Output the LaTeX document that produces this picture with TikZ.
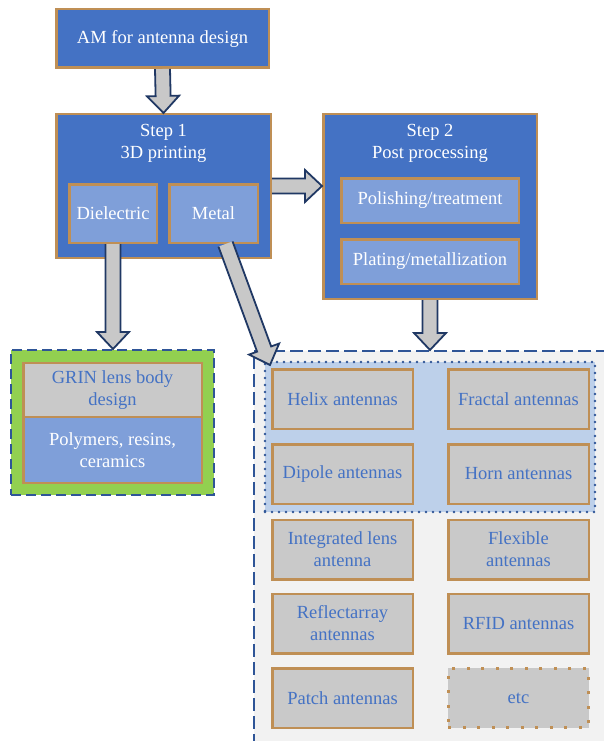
\documentclass[tikz,border=0pt]{standalone}
\usepackage{fontspec}
\setmainfont{Liberation Serif}
\usetikzlibrary{calc}

\definecolor{boxblue}{HTML}{4472C4}
\definecolor{subblue}{HTML}{7F9FD9}
\definecolor{boxtan}{HTML}{BF8F55}
\definecolor{boxgray}{HTML}{C9C9C9}
\definecolor{gringreen}{HTML}{92D050}
\definecolor{arrownavy}{HTML}{203864}
\definecolor{dashblue}{HTML}{2F5597}
\definecolor{panelgray}{HTML}{F2F2F2}
\definecolor{panelblue}{HTML}{BDD0EA}
\definecolor{arrowgray}{HTML}{C8C8C8}

% block arrow from #1 to #2 (tip)
\newcommand{\blockarrow}[2]{%
  \coordinate (ba) at ($(#2)!17pt!(#1)$);
  \filldraw[barrow] ($(#1)!7.5pt!90:(#2)$) -- ($(ba)!7.5pt!90:(#2)$)
    -- ($(ba)!16pt!90:(#2)$) -- (#2) -- ($(ba)!16pt!-90:(#2)$)
    -- ($(ba)!7.5pt!-90:(#2)$) -- ($(#1)!7.5pt!-90:(#2)$);
}

\begin{document}
\begin{tikzpicture}
  [x=1pt, y=-1pt,
    font=\fontsize{18.5}{22}\selectfont,
    every node/.style={align=center, inner sep=2pt},
    mainbox/.style={draw=boxtan, line width=2.5pt, fill=boxblue, text=white},
    subbox/.style={draw=boxtan, line width=2.5pt, fill=subblue, text=white},
    antbox/.style={draw=boxtan, line width=2.5pt, fill=boxgray, text=boxblue,
      minimum width=140.5pt, minimum height=59.5pt},
    barrow/.style={draw=arrownavy, line width=1.8pt, fill=arrowgray, line join=miter},
  ]
\useasboundingbox (0,0) rectangle (604,741);
\clip (0,0) rectangle (604,741);

% panels
\node[draw=dashblue, fill=panelgray, line width=2pt, dash pattern=on 13pt off 5pt,
  minimum width=386pt, minimum height=429pt] (panel) at (447,565.5) {};
\node[draw=dashblue, fill=panelblue, line width=2.6pt, line cap=round,
  dash pattern=on 0pt off 7pt, minimum width=330pt, minimum height=150pt] (inner) at (430,437) {};
\node[draw=dashblue, fill=gringreen, line width=2pt, dash pattern=on 10pt off 5pt,
  minimum width=203pt, minimum height=145pt] (grin) at (112.5,422.5) {};

% steps
\node[mainbox, minimum width=212.5pt, minimum height=58.5pt] (am) at (162.5,38.5) {AM for antenna design};
\node[mainbox, minimum width=214.5pt, minimum height=143.5pt] (step1) at (163.5,186) {};
\node[text=white] (step1t) at (163.5,143) {Step 1\\3D printing};
\node[subbox, minimum width=87.5pt, minimum height=58.5pt] (diel) at (113,213.5) {Dielectric};
\node[subbox, minimum width=88.5pt, minimum height=58.5pt] (metal) at (213.5,213.5) {Metal};

\node[mainbox, minimum width=213.5pt, minimum height=184.5pt] (step2) at (430,206.5) {};
\node[text=white] (step2t) at (430,143) {Step 2\\Post processing};
\node[subbox, minimum width=177.5pt, minimum height=44.5pt] (polish) at (430,200.5) {Polishing/treatment};
\node[subbox, minimum width=177.5pt, minimum height=44.5pt] (plating) at (430,261.5) {Plating/metallization};

% GRIN
\node[draw=boxtan, line width=2.5pt, fill=boxgray, text=boxblue,
  minimum width=178.5pt, minimum height=54pt] (grintop) at (112.5,390) {GRIN lens body\\design};
\node[subbox, minimum width=178.5pt, minimum height=66pt] (polymers) at (112.5,450) {Polymers, resins,\\ceramics};

% antennas
\node[antbox] (helix) at (342.5,399) {Helix antennas};
\node[antbox] (fractal) at (518.5,399) {Fractal antennas};
\node[antbox] (dipole) at (342.5,474) {Dipole antennas};
\node[antbox] (horn) at (518.5,474) {Horn antennas};
\node[antbox] (lens) at (342.5,549.5) {Integrated lens\\antenna};
\node[antbox] (flex) at (518.5,549.5) {Flexible\\antennas};
\node[antbox] (reflect) at (342.5,623.5) {Reflectarray\\antennas};
\node[antbox] (rfid) at (518.5,623.5) {RFID antennas};
\node[antbox] (patch) at (342.5,698) {Patch antennas};
\node[antbox, line width=3pt, dash pattern=on 3pt off 11.5pt] (etc) at (518.5,698) {etc};

% arrows
\blockarrow{am.south}{step1.north}
\coordinate (s2w) at (step1.east -| step2.west);
\blockarrow{step1.east}{s2w}
\coordinate (grn) at (diel.south |- grin.north);
\blockarrow{diel.south}{grn}
\coordinate (mstart) at ($(metal.south)+(12,0)$);
\coordinate (mtip) at (270,365);
\blockarrow{mstart}{mtip}
\coordinate (pnl) at (step2.south |- panel.north);
\blockarrow{step2.south}{pnl}
\end{tikzpicture}
\end{document}
